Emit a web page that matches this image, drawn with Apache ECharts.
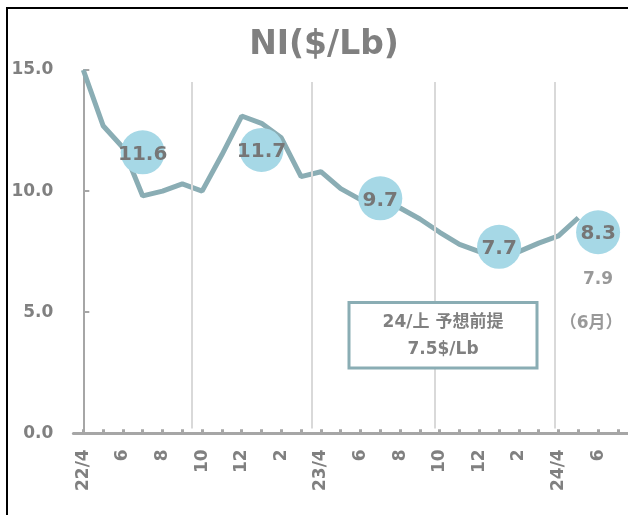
<!DOCTYPE html>
<html>
<head>
<meta charset="utf-8">
<script src="https://cdn.jsdelivr.net/npm/echarts@6/dist/echarts.min.js"></script>
<style>
html,body{margin:0;padding:0;background:#fff;}
#chart{width:628px;height:515px;}
</style>
</head>
<body>
<div id="chart"></div>
<script>
// Month categories (22/4 .. 24/7), label text as shown on the axis
const months = ['22/4','5','6','7','8','9','10','11','12','1','2','3',
                '23/4','5','6','7','8','9','10','11','12','1','2','3',
                '24/4','5','6','7'];
// Monthly NI price ($/Lb), 22/4 .. 24/5
const niPrice = [15.0, 12.7, 11.8, 9.8, 10.0, 10.3,
                 10.0, 11.5, 13.1, 12.8, 12.2, 10.6,
                 10.8, 10.1, 9.65, 9.5, 9.3, 8.85,
                 8.3, 7.8, 7.5, 7.3, 7.5, 7.85,
                 8.15, 8.9];
// Half-year averages: [month index, value]
const halfAvg = [[3, 11.6], [9, 11.7], [15, 9.7], [21, 7.7], [26, 8.3]];
// June 2024 value note
const juneNote = [[26, 6.33, '7.9'], [25.65, 4.55, '（6月）']];
// Half-year separators (month index position)
const separators = [5.5, 11.55, 17.75, 23.8];
const yTicks = {min: 0, max: 15, interval: 5};

const GREY = '#808080';
const FONT = '"DejaVu Sans", "Noto Sans CJK JP", sans-serif';
const N = months.length;

const chart = echarts.init(document.getElementById('chart'), null, {renderer: 'canvas'});
chart.setOption({
  backgroundColor: '#fff',
  animation: false,
  title: {
    text: 'NI($/Lb)',
    left: 319, top: 24, textAlign: 'center',
    textStyle: {color: GREY, fontSize: 33, fontWeight: 'bold', fontFamily: FONT}
  },
  grid: {left: 73.4, top: 70, width: N * 19.8, height: 363.3, containLabel: false,
         outerBoundsMode: 'none'},
  xAxis: [{
    type: 'category',
    data: months,
    boundaryGap: true,
    axisLine: {lineStyle: {color: '#a6a6a6', width: 3}},
    axisTick: {show: true, inside: true, length: 4, interval: 0, alignWithLabel: true,
               lineStyle: {color: '#a6a6a6', width: 3}},
    axisLabel: {interval: 1, rotate: 90, margin: 16, color: GREY, fontSize: 17,
                fontWeight: 'bold', fontFamily: FONT, padding: [8, 0, 0, 0]},
    splitLine: {show: false}
  }, {
    type: 'value', min: -0.5, max: N - 0.5, show: false,
    splitLine: {show: false}
  }],
  yAxis: {
    type: 'value', min: yTicks.min, max: yTicks.max, interval: yTicks.interval,
    axisLine: {show: true, lineStyle: {color: '#a6a6a6', width: 2}},
    axisTick: {show: true, inside: true, length: 6, lineStyle: {color: '#a6a6a6', width: 2}},
    axisLabel: {margin: 20, color: GREY, fontSize: 17, fontWeight: 'bold', fontFamily: FONT,
                formatter: v => v.toFixed(1)},
    splitLine: {show: false}
  },
  series: [{
    type: 'line', xAxisIndex: 1, data: [], z: 1, silent: true,
    markLine: {
      silent: true, symbol: 'none', label: {show: false},
      lineStyle: {color: '#d9d9d9', width: 2, type: 'solid'},
      data: separators.map(s => [{coord: [s, 14.5]}, {coord: [s, 0.2]}])
    }
  }, {
    type: 'line', xAxisIndex: 0, data: niPrice, z: 2,
    symbol: 'none', smooth: false,
    lineStyle: {color: '#8aadb4', width: 5}
  }, {
    type: 'scatter', xAxisIndex: 1, data: halfAvg, z: 3,
    symbolSize: 44,
    itemStyle: {color: '#a6d8e6', opacity: 1},
    label: {show: true, position: 'inside', offset: [0, 2],
            formatter: p => p.value[1].toFixed(1),
            color: '#767676', fontSize: 20, fontWeight: 'bold', fontFamily: FONT}
  }, {
    type: 'scatter', xAxisIndex: 1, data: juneNote, z: 3,
    symbolSize: 0,
    label: {show: true, position: 'inside', formatter: p => p.value[2],
            color: GREY, fontSize: 17, fontWeight: 'bold', fontFamily: FONT}
  }],
  graphic: [{
    type: 'rect', shape: {x: 7, y: 8, width: 700, height: 600},
    style: {fill: 'none', stroke: '#000', lineWidth: 2}, silent: true
  }, {
    type: 'rect', shape: {x: 349, y: 302.5, width: 188, height: 65.5},
    style: {fill: '#fff', stroke: '#8aadb4', lineWidth: 3}, z: 10
  }, {
    type: 'text', x: 443, y: 323, z: 11,
    style: {text: '24/上 予想前提', fill: GREY, fontSize: 17, fontWeight: 'bold',
            fontFamily: FONT, align: 'center', verticalAlign: 'middle'}
  }, {
    type: 'text', x: 443, y: 350, z: 11,
    style: {text: '7.5$/Lb', fill: GREY, fontSize: 17, fontWeight: 'bold',
            fontFamily: FONT, align: 'center', verticalAlign: 'middle'}
  }]
});
</script>
</body>
</html>
